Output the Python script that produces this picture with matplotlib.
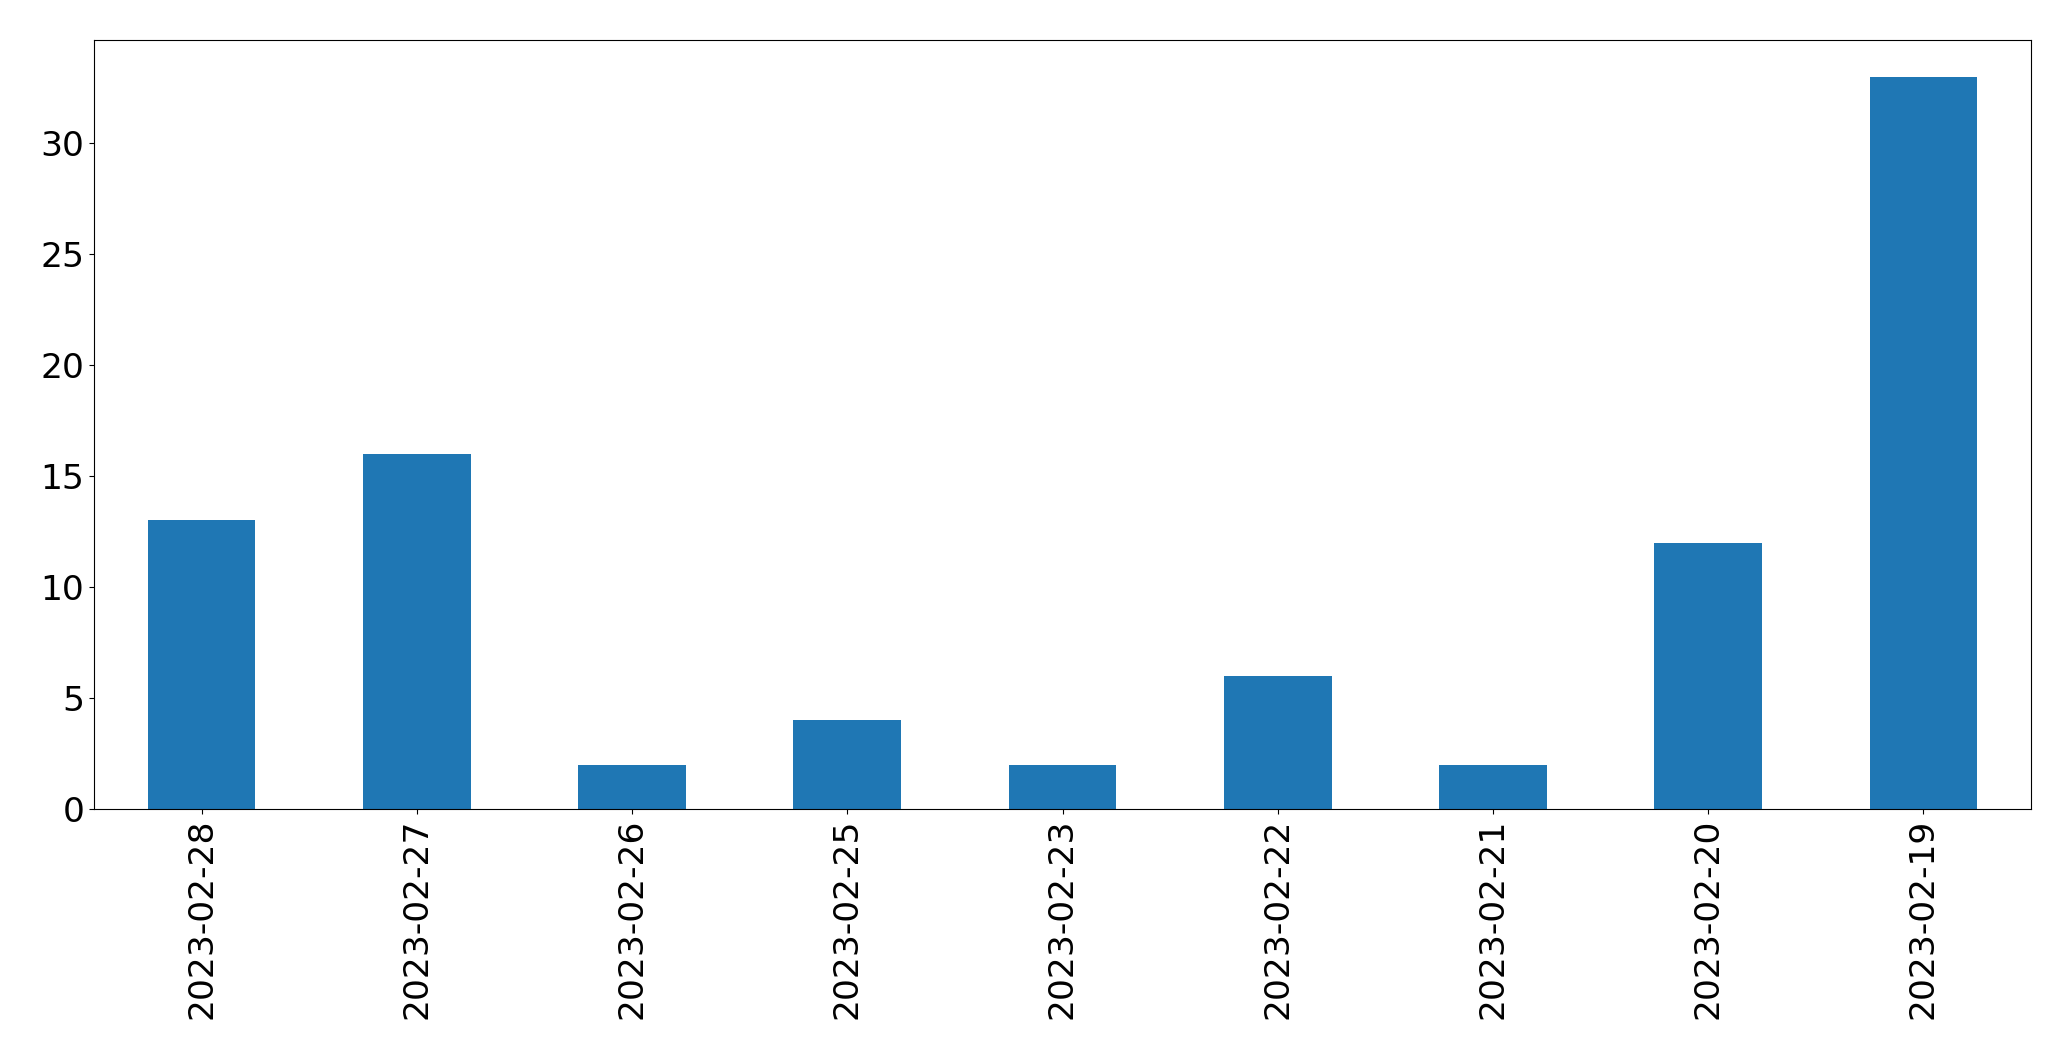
import matplotlib
matplotlib.use("Agg")
import matplotlib.pyplot as plt
import pandas as pd

dates = ["2023-02-28", "2023-02-27", "2023-02-26", "2023-02-25", "2023-02-23",
         "2023-02-22", "2023-02-21", "2023-02-20", "2023-02-19"]
counts = [13, 16, 2, 4, 2, 6, 2, 12, 33]

W, H = 2071, 1061
fig = plt.figure(figsize=(W / 100, H / 100), dpi=100)
ax = fig.add_axes([94 / W, 1 - 809 / H, (2031 - 94) / W, (809 - 40) / H])
s = pd.Series(counts, index=dates)
s.plot(kind="bar", ax=ax, color="#1f77b4", fontsize=24.8)
plt.setp(ax.get_xticklabels(), rotation=90)
fig.savefig("out.png", dpi=100)
